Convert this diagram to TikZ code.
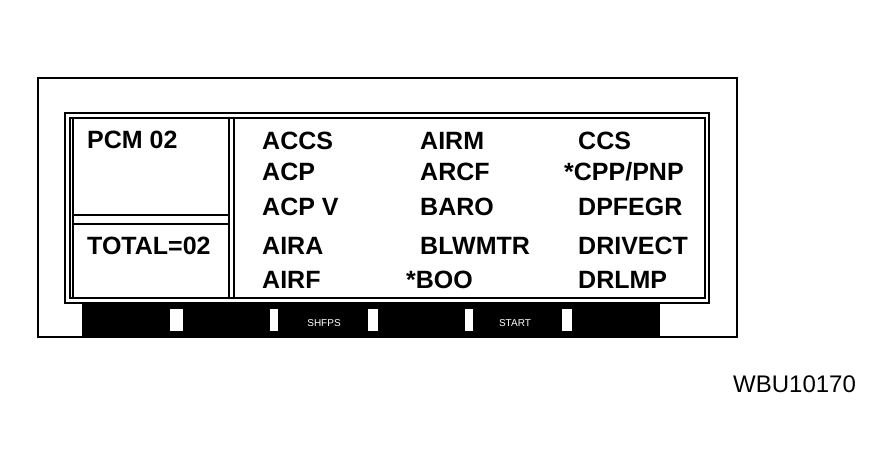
\documentclass[tikz,border=0pt]{standalone}
\usepackage{fontspec}
\setmainfont{Liberation Sans}
\begin{document}
\begin{tikzpicture}[x=1pt,y=-1pt,
  frame/.style={draw=black,line width=2.2pt},
  thin/.style={draw=black,line width=1.6pt},
  lbl/.style={anchor=base west,inner sep=0pt,font=\fontsize{25}{25}\selectfont\bfseries},
  key/.style={anchor=base,inner sep=0pt,text=white,font=\fontsize{10}{10}\selectfont}]
\useasboundingbox (0,0) rectangle (894,463);
\fill[white] (0,0) rectangle (894,463);
% outer housing
\draw[frame] (38,78) rectangle (737,337);
% screen double border
\draw[thin] (65,113) rectangle (709,303);
\draw[thin] (70,118) rectangle (705,298);
% panel dividers
\draw[thin] (229,118) -- (229,298);
\draw[thin] (234,118) -- (234,298);
\draw[thin] (73,118) -- (73,298);
\draw[thin] (73,215) -- (229,215);
\draw[thin] (73,224) -- (229,224);
% black key bar
\fill[black] (82,304) rectangle (660,336);
\foreach \a/\b in {170/183,270/278,368/378,465/473,562/572}
  \fill[white] (\a,309) rectangle (\b,331);
\node[key] (k1) at (324,326) {SHFPS};
\node[key] (k2) at (515,326) {START};
% left panel
\node[lbl] (pcm) at (87,148) {PCM 02};
\node[lbl] (tot) at (87,254) {TOTAL=02};
% column 1
\node[lbl] (a1) at (262,149) {ACCS};
\node[lbl] (a2) at (262,180) {ACP};
\node[lbl] (a3) at (262,215) {ACP V};
\node[lbl] (a4) at (262,254) {AIRA};
\node[lbl] (a5) at (262,288) {AIRF};
% column 2
\node[lbl] (b1) at (420,149) {AIRM};
\node[lbl] (b2) at (420,180) {ARCF};
\node[lbl] (b3) at (420,215) {BARO};
\node[lbl] (b4) at (420,254) {BLWMTR};
\node[lbl] (b5) at (406,288) {*BOO};
% column 3
\node[lbl] (c1) at (578,149) {CCS};
\node[lbl] (c2) at (564,180) {*CPP/PNP};
\node[lbl] (c3) at (578,215) {DPFEGR};
\node[lbl] (c4) at (578,254) {DRIVECT};
\node[lbl] (c5) at (578,288) {DRLMP};
\node[anchor=base west,inner sep=0pt,font=\fontsize{24}{24}\selectfont] (id) at (733,392) {WBU10170};
\end{tikzpicture}
\end{document}
